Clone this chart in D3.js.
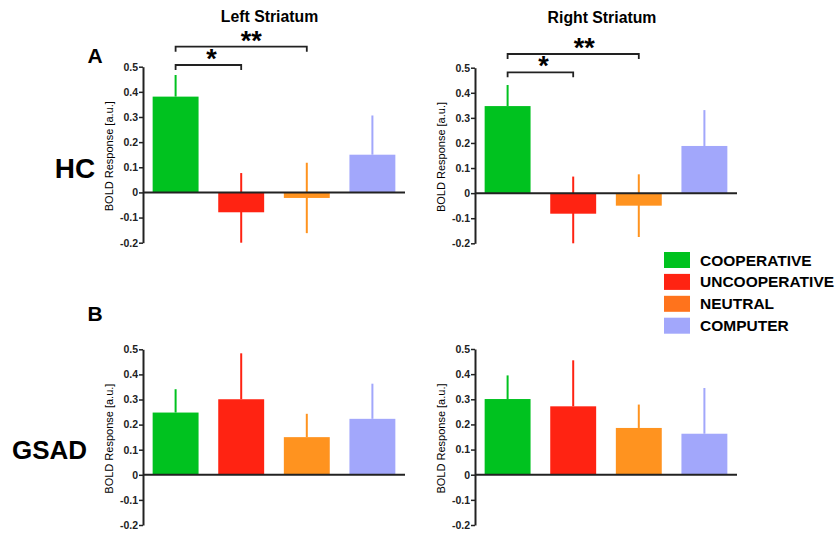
<!DOCTYPE html>
<html>
<head>
<meta charset="utf-8">
<script src="https://cdn.jsdelivr.net/npm/d3@7"></script>
<style>
  body { margin: 0; background: #fff; }
  svg { font-family: "Liberation Sans", Arial, sans-serif; }
</style>
</head>
<body>
<svg id="chart" width="840" height="534"></svg>
<script>
// conditions shown in every panel
const conditions = ['COOPERATIVE', 'UNCOOPERATIVE', 'NEUTRAL', 'COMPUTER'];
const barColors = ['#00c21f', '#ff2312', '#ff931f', '#a2a7fb'];
const legendColors = ['#00c21f', '#ff2312', '#ff731c', '#a2a7fb'];

// mean BOLD response and error per panel
const hcLeft = [0.381, -0.079, -0.022, 0.150];
const hcLeftErr = [0.086, 0.156, 0.140, 0.156];
const hcRight = [0.347, -0.082, -0.050, 0.188];
const hcRightErr = [0.084, 0.148, 0.125, 0.143];
const gsadLeft = [0.248, 0.301, 0.150, 0.223];
const gsadLeftErr = [0.093, 0.183, 0.093, 0.140];
const gsadRight = [0.301, 0.272, 0.186, 0.163];
const gsadRightErr = [0.094, 0.183, 0.093, 0.182];

const yTicks = [-0.2, -0.1, 0, 0.1, 0.2, 0.3, 0.4, 0.5];

const svg = d3.select('#chart');

// draw one bar panel; x0 = y-axis position, top/bottom = pixel of 0.5 / -0.2
function drawPanel(x0, x1, top, bottom, values, errs) {
    const g = svg.append('g');
    const y = d3.scaleLinear().domain([-0.2, 0.5]).range([bottom, top]);
    const x = d3.scaleBand().domain(conditions).range([x0, x1])
        .paddingInner(0.3).paddingOuter(0.147);

    // error bars: positive bars only show the upper whisker
    g.selectAll('.err')
        .data(conditions)
        .enter()
        .append('line')
        .attr('x1', d => x(d) + x.bandwidth() / 2)
        .attr('x2', d => x(d) + x.bandwidth() / 2)
        .attr('y1', (d, i) => values[i] >= 0 ? y(values[i]) : y(Math.max(-0.2, values[i] - errs[i])))
        .attr('y2', (d, i) => y(Math.min(0.5, values[i] + errs[i])))
        .attr('stroke', (d, i) => barColors[i])
        .attr('stroke-width', 2);

    g.selectAll('.bar')
        .data(conditions)
        .enter()
        .append('rect')
        .attr('x', d => x(d))
        .attr('width', x.bandwidth())
        .attr('y', (d, i) => y(Math.max(0, values[i])))
        .attr('height', (d, i) => Math.abs(y(values[i]) - y(0)))
        .attr('fill', (d, i) => barColors[i]);

    // zero baseline
    g.append('line')
        .attr('x1', x0).attr('x2', x1)
        .attr('y1', y(0)).attr('y2', y(0))
        .attr('stroke', '#222').attr('stroke-width', 2);

    const axis = g.append('g')
        .attr('transform', `translate(${x0},0)`)
        .call(d3.axisLeft(y).tickValues(yTicks).tickSize(4).tickSizeOuter(0)
            .tickFormat(d => d === 0 ? '0' : d.toFixed(1)));
    axis.select('.domain').attr('stroke', '#222').attr('stroke-width', 2);
    axis.selectAll('.tick line').attr('stroke', '#222').attr('stroke-width', 1.5);
    axis.selectAll('.tick text')
        .attr('x', -5)
        .style('font-size', '10.5px')
        .style('font-weight', 'bold')
        .attr('fill', '#222');

    g.append('text')
        .attr('transform', `translate(${x0 - 34},${(top + bottom) / 2 + 1.5}) rotate(-90)`)
        .attr('text-anchor', 'middle')
        .attr('dy', '0.35em')
        .style('font-size', '11px')
        .text('BOLD Response [a.u.]');

    return x;
}

// significance bracket, label nudged like in the original figure
function bracket(xa, xb, yLine, label, shift) {
    svg.append('path')
        .attr('d', `M${xa},${yLine + 5}V${yLine}H${xb}V${yLine + 5}`)
        .attr('fill', 'none').attr('stroke', '#222').attr('stroke-width', 1.8);
    svg.append('text')
        .attr('x', (xa + xb) / 2 + shift)
        .attr('y', yLine + 3)
        .attr('text-anchor', 'middle')
        .style('font-size', '27px')
        .style('font-weight', 'bold')
        .text(label);
}

const xTL = drawPanel(143, 405, 66.7, 242.7, hcLeft, hcLeftErr);
const xTR = drawPanel(475, 737, 67.7, 243.3, hcRight, hcRightErr);
drawPanel(143, 405, 349.3, 525, gsadLeft, gsadLeftErr);
drawPanel(475, 737, 349, 525, gsadRight, gsadRightErr);

const cx = (sc, i) => sc(conditions[i]) + sc.bandwidth() / 2;
bracket(cx(xTL, 0), cx(xTL, 1), 65, '*', 3);
bracket(cx(xTL, 0), cx(xTL, 2), 46.7, '**', 10);
bracket(cx(xTR, 0), cx(xTR, 1), 72.3, '*', 3);
bracket(cx(xTR, 0), cx(xTR, 2), 54, '**', 11);

// panel titles
svg.append('text').attr('x', 269.5).attr('y', 22).attr('text-anchor', 'middle')
    .style('font-size', '15.8px').style('font-weight', 'bold').text('Left Striatum');
svg.append('text').attr('x', 602).attr('y', 22.5).attr('text-anchor', 'middle')
    .style('font-size', '15.8px').style('font-weight', 'bold').text('Right Striatum');

// row letters and group names
svg.append('text').attr('x', 95).attr('y', 63).attr('text-anchor', 'middle')
    .style('font-size', '21px').style('font-weight', 'bold').text('A');
svg.append('text').attr('x', 95).attr('y', 321).attr('text-anchor', 'middle')
    .style('font-size', '21px').style('font-weight', 'bold').text('B');
svg.append('text').attr('x', 75).attr('y', 178).attr('text-anchor', 'middle')
    .style('font-size', '28px').style('font-weight', 'bold').text('HC');
svg.append('text').attr('x', 49.5).attr('y', 459).attr('text-anchor', 'middle')
    .style('font-size', '26px').style('font-weight', 'bold').text('GSAD');

// legend
const legend = svg.append('g').attr('transform', 'translate(664,252)');
const rows = legend.selectAll('g')
    .data(conditions)
    .enter()
    .append('g')
    .attr('transform', (d, i) => `translate(0,${i * 21.9})`);
rows.append('rect')
    .attr('width', 26).attr('height', 16)
    .attr('fill', (d, i) => legendColors[i]);
rows.append('text')
    .attr('x', 36).attr('y', 13.5)
    .style('font-size', '15.5px').style('font-weight', 'bold')
    .text(d => d);
</script>
</body>
</html>
